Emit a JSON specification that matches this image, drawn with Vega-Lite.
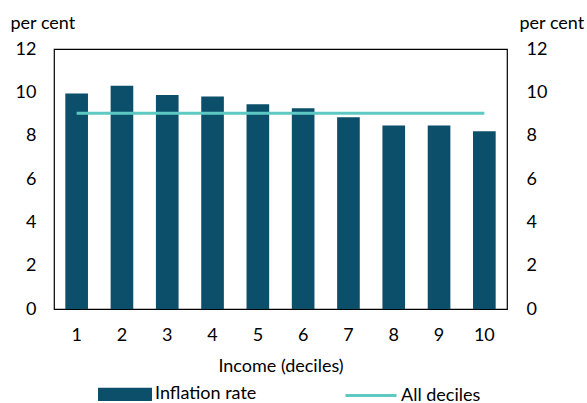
{
  "$schema": "https://vega.github.io/schema/vega-lite/v6.json",
  "width": 453,
  "height": 260,
  "autosize": {"type": "none"},
  "padding": {"left": 54, "top": 49, "right": 80, "bottom": 94},
  "config": {
    "font": "Lato",
    "view": {"stroke": "#000000", "strokeWidth": 1.2},
    "axis": {
      "labelFont": "Lato", "titleFont": "Lato", "labelColor": "#000000", "titleColor": "#000000",
      "grid": false, "ticks": false, "domain": false,
      "labelFontSize": 18, "titleFontSize": 18, "titleFontWeight": "normal"
    },
    "legend": {"labelFont": "Lato", "labelFontSize": 18, "labelColor": "#000000", "labelLimit": 300}
  },
  "data": {
    "values": [
      {"decile": 1, "rate": 9.95, "all": 9.03},
      {"decile": 2, "rate": 10.3, "all": 9.03},
      {"decile": 3, "rate": 9.88, "all": 9.03},
      {"decile": 4, "rate": 9.81, "all": 9.03},
      {"decile": 5, "rate": 9.45, "all": 9.03},
      {"decile": 6, "rate": 9.26, "all": 9.03},
      {"decile": 7, "rate": 8.85, "all": 9.03},
      {"decile": 8, "rate": 8.47, "all": 9.03},
      {"decile": 9, "rate": 8.47, "all": 9.03},
      {"decile": 10, "rate": 8.2, "all": 9.03}
    ]
  },
  "encoding": {
    "x": {
      "field": "decile", "type": "ordinal",
      "scale": {"paddingInner": 0.5, "paddingOuter": 0.25},
      "axis": {"labelAngle": 0, "labelPadding": 17, "title": "Income (deciles)", "titlePadding": 13}
    }
  },
  "layer": [
    {
      "mark": {"type": "bar", "color": "#0b4f6b"},
      "encoding": {
        "y": {
          "field": "rate", "type": "quantitative",
          "scale": {"domain": [0, 12]},
          "axis": {
            "orient": "left", "values": [0, 2, 4, 6, 8, 10, 12], "labelPadding": 18,
            "title": "per cent", "titleAngle": 0, "titleAlign": "left", "titleBaseline": "alphabetic",
            "titleX": -44, "titleY": -21
          }
        },
        "color": {
          "datum": "Inflation rate",
          "scale": {"domain": ["Inflation rate", "All deciles"], "range": ["#0b4f6b", "#5ec8c3"]},
          "legend": {
            "title": null, "orient": "none", "direction": "horizontal",
            "legendX": 44, "legendY": 318, "columnPadding": 82, "labelOffset": 3,
            "symbolSize": 2601, "symbolType": "M-1,-0.2H1V0.2H-1Z",
            "encode": {
              "symbols": {
                "update": {
                  "shape": {"signal": "datum.value === 'Inflation rate' ? 'M-1,-0.2H1V0.2H-1Z' : 'M-1,0H1'"},
                  "fill": {"signal": "datum.value === 'Inflation rate' ? '#0b4f6b' : 'transparent'"},
                  "stroke": {"signal": "datum.value === 'Inflation rate' ? 'transparent' : '#5ec8c3'"},
                  "strokeWidth": {"value": 3},
                  "opacity": {"value": 1}
                }
              }
            }
          }
        }
      }
    },
    {
      "mark": {"type": "line", "strokeWidth": 3},
      "encoding": {
        "y": {
          "field": "all", "type": "quantitative",
          "scale": {"domain": [0, 12]},
          "axis": {
            "orient": "right", "values": [0, 2, 4, 6, 8, 10, 12], "labelPadding": 19,
            "title": "per cent", "titleAngle": 0, "titleAlign": "left", "titleBaseline": "alphabetic",
            "titleX": 12, "titleY": -21
          }
        },
        "color": {"datum": "All deciles"}
      }
    }
  ],
  "resolve": {"scale": {"y": "independent"}}
}
